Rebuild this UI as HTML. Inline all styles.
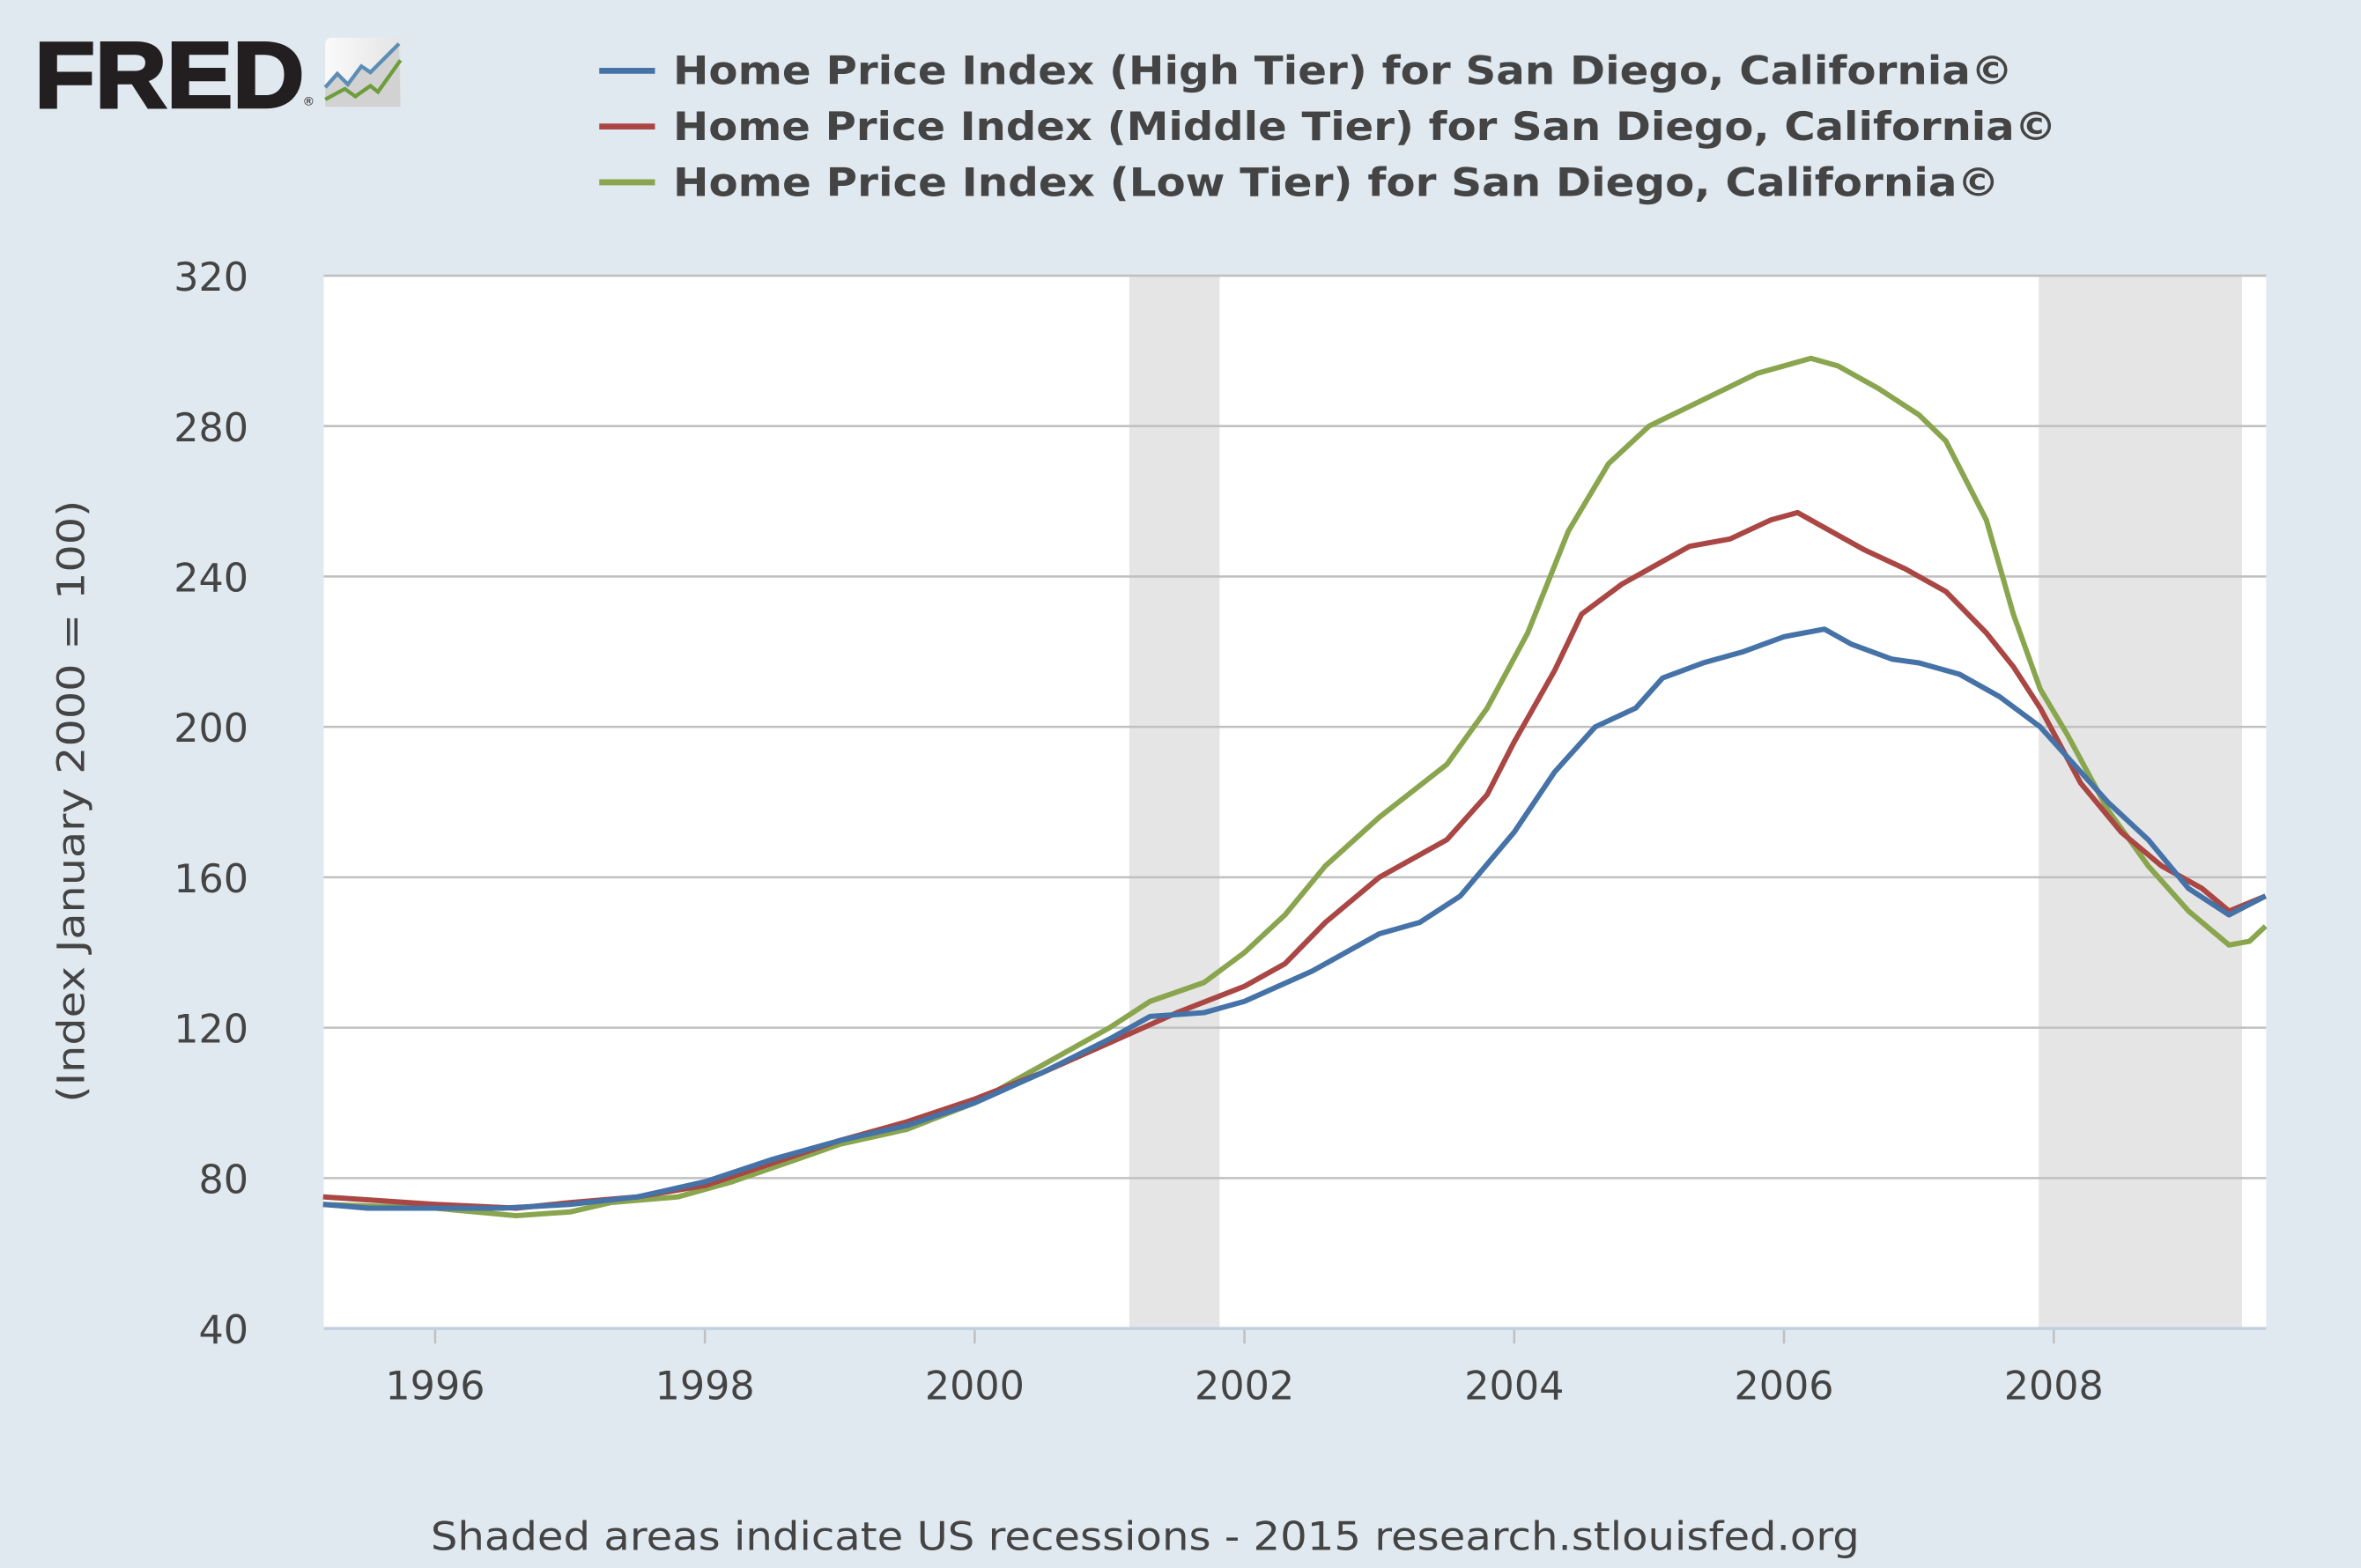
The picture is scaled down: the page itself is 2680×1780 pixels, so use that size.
<!DOCTYPE html>
<html><head><meta charset="utf-8"><style>
html,body{margin:0;padding:0;background:#e1e9f0;}
svg{display:block;}
</style></head><body>
<svg id="s" width="2680" height="1780" viewBox="0 0 1568 1041" preserveAspectRatio="none" xmlns="http://www.w3.org/2000/svg" font-family="DejaVu Sans, Liberation Sans, sans-serif">
<rect width="1568" height="1041" fill="#e1e9f0"/>
<text x="23" y="71" font-size="62" font-weight="bold" fill="#231f20" font-family="Liberation Sans, sans-serif" textLength="179" lengthAdjust="spacingAndGlyphs" stroke="#231f20" stroke-width="2">FRED</text>
<text x="201" y="70" font-size="8" fill="#231f20">®</text>
<defs><linearGradient id="g" x1="0" x2="1"><stop offset="0" stop-color="#fafafa"/><stop offset="1" stop-color="#e4e4e4"/></linearGradient></defs>
<rect x="216" y="25" width="50" height="46" rx="4" fill="url(#g)"/>
<polygon points="216,58 224,49 231,56 240,44 246,48 265,29 266,71 216,71" fill="#d2d2d2"/>
<polyline points="216,58 224,49 231,56 240,44 246,48 265,29" fill="none" stroke="#5b8db5" stroke-width="2.5"/>
<polyline points="216,66 229,59 236,64 246,57 251,61 266,40" fill="none" stroke="#6d9d3c" stroke-width="2.5"/>
<g font-size="26" font-weight="bold" fill="#444">
<line x1="398" y1="47" x2="435" y2="47" stroke="#4572a7" stroke-width="4"/>
<text x="447" y="56" textLength="890" lengthAdjust="spacingAndGlyphs">Home Price Index (High Tier) for San Diego, California©</text>
<line x1="398" y1="84" x2="435" y2="84" stroke="#aa4643" stroke-width="4"/>
<text x="447" y="93" textLength="919" lengthAdjust="spacingAndGlyphs">Home Price Index (Middle Tier) for San Diego, California©</text>
<line x1="398" y1="121" x2="435" y2="121" stroke="#89a54e" stroke-width="4"/>
<text x="447" y="130" textLength="881" lengthAdjust="spacingAndGlyphs">Home Price Index (Low Tier) for San Diego, California©</text>
</g>
<rect x="215" y="183" width="1290" height="699" fill="#fff"/>
<rect x="750" y="183" width="60" height="699" fill="#e5e5e5"/>
<rect x="1354" y="183" width="135" height="699" fill="#e5e5e5"/>
<g id="grid" stroke="#c0c0c0" stroke-width="1.5"></g>
<g id="ylab" font-size="26" fill="#444" text-anchor="end"></g>
<g id="xlab" font-size="26" fill="#444" text-anchor="middle"></g>
<line x1="215" y1="882" x2="1505" y2="882" stroke="#c0d0e0" stroke-width="2"/>
<g id="series" fill="none" stroke-width="3.5" stroke-linejoin="round"></g>
<text transform="translate(56,532) rotate(-90)" font-size="25" fill="#444" text-anchor="middle" textLength="400" lengthAdjust="spacingAndGlyphs">(Index January 2000 = 100)</text>
<text x="286" y="1029" font-size="26" fill="#444" textLength="949" lengthAdjust="spacingAndGlyphs">Shaded areas indicate US recessions - 2015 research.stlouisfed.org</text>
</svg>
<script>
var NS="http://www.w3.org/2000/svg";
function Y(v){return 882-(v-40)*2.4964;}
function X(t){return 289+(t-1996)*89.58;}
function el(p,tag,a,txt){var e=document.createElementNS(NS,tag);for(var k in a)e.setAttribute(k,a[k]);if(txt)e.textContent=txt;document.getElementById(p).appendChild(e);}
for(var v=40;v<=320;v+=40){if(v>40)el("grid","line",{x1:215,x2:1505,y1:Y(v),y2:Y(v)});el("ylab","text",{x:165,y:Y(v)+10},String(v));}
for(var yr=1996;yr<=2008;yr+=2){el("grid","line",{x1:X(yr),x2:X(yr),y1:882,y2:892});el("xlab","text",{x:X(yr),y:929},String(yr));}
var high=[[1995.17,73],[1995.5,72],[1996,72],[1996.5,72],[1997,73],[1997.5,75],[1998,79],[1998.5,85],[1999,90],[1999.5,94],[2000,100],[2000.5,108],[2001,117],[2001.3,123],[2001.7,124],[2002,127],[2002.5,135],[2003,145],[2003.3,148],[2003.6,155],[2004,172],[2004.3,188],[2004.6,200],[2004.9,205],[2005.1,213],[2005.4,217],[2005.7,220],[2006,224],[2006.3,226],[2006.5,222],[2006.8,218],[2007,217],[2007.3,214],[2007.6,208],[2007.9,200],[2008.1,192],[2008.4,180],[2008.7,170],[2009,157],[2009.3,150],[2009.57,155]];
var mid=[[1995.17,75],[1996,73],[1996.6,72],[1997,73.5],[1997.5,75],[1998,78],[1998.5,84],[1999,90],[1999.5,95],[2000,101],[2000.5,108],[2001,116],[2001.5,124],[2002,131],[2002.3,137],[2002.6,148],[2003,160],[2003.5,170],[2003.8,182],[2004,196],[2004.3,215],[2004.5,230],[2004.8,238],[2005,242],[2005.3,248],[2005.6,250],[2005.9,255],[2006.1,257],[2006.3,253],[2006.6,247],[2006.9,242],[2007.2,236],[2007.5,225],[2007.7,216],[2007.9,205],[2008.2,185],[2008.5,172],[2008.8,163],[2009.1,157],[2009.3,151],[2009.57,155]];
var low=[[1995.17,73],[1996,72],[1996.6,70],[1997,71],[1997.3,73.5],[1997.8,75],[1998.2,79],[1998.6,84],[1999,89],[1999.5,93],[2000,100],[2000.5,110],[2001,120],[2001.3,127],[2001.7,132],[2002,140],[2002.3,150],[2002.6,163],[2003,176],[2003.5,190],[2003.8,205],[2004.1,225],[2004.4,252],[2004.7,270],[2005,280],[2005.4,287],[2005.8,294],[2006.2,298],[2006.4,296],[2006.7,290],[2007,283],[2007.2,276],[2007.5,255],[2007.7,230],[2007.9,210],[2008.1,198],[2008.4,178],[2008.7,163],[2009,151],[2009.3,142],[2009.45,143],[2009.57,147]];
function pl(d,c){el("series","polyline",{points:d.map(function(p){return X(p[0]).toFixed(1)+","+Y(p[1]).toFixed(1);}).join(" "),stroke:c});}
pl(low,"#89a54e");pl(mid,"#aa4643");pl(high,"#4572a7");
</script>
</body></html>
